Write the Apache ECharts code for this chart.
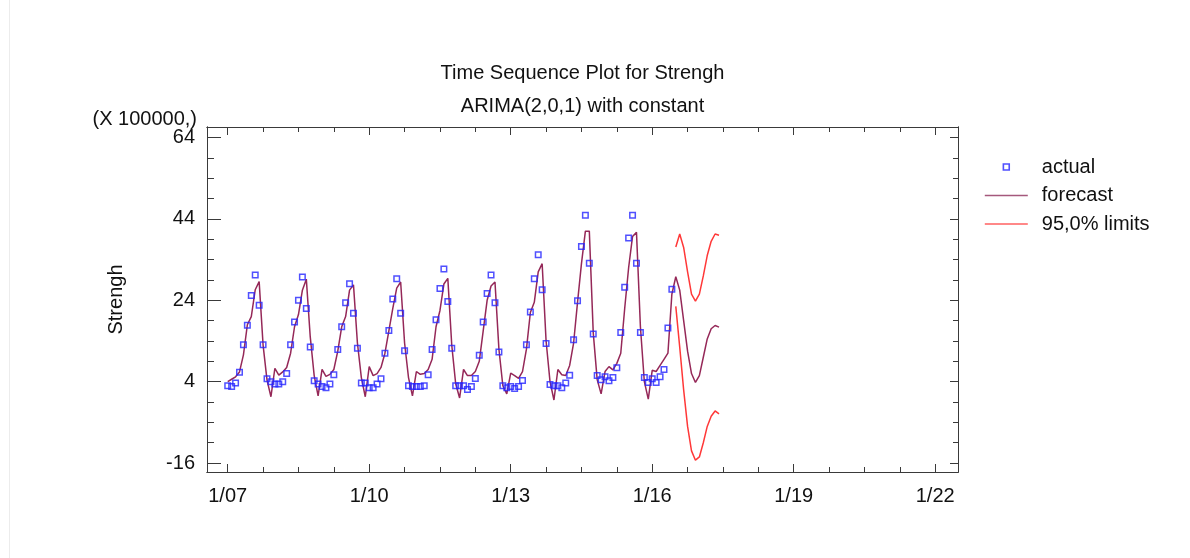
<!DOCTYPE html>
<html>
<head>
<meta charset="utf-8">
<script src="https://cdn.jsdelivr.net/npm/echarts@6/dist/echarts.min.js"></script>
<style>
html,body{margin:0;padding:0;background:#fff;}
#chart{width:1190px;height:558px;}
</style>
</head>
<body>
<div id="chart"></div>
<script>
// ---- data (units of 100000), monthly, index 0 = Jan 2007 ----
const actualValues = [
  3.0, 2.8, 3.7, 6.3, 13.1, 17.9, 25.2, 30.2, 22.8, 13.1, 4.7, 4.0,
  3.4, 3.4, 4.0, 6.0, 13.1, 18.7, 24.0, 29.7, 22.0, 12.5, 4.2, 3.4,
  2.8, 2.5, 3.4, 5.7, 11.9, 17.5, 23.4, 28.1, 20.8, 12.2, 3.7, 3.7,
  2.5, 2.5, 3.4, 4.7, 11.0, 16.6, 24.3, 29.3, 20.8, 11.6, 3.0, 2.8,
  2.8, 2.8, 3.0, 5.7, 11.9, 19.2, 26.9, 31.7, 23.7, 12.2, 3.0, 3.0,
  3.0, 2.1, 2.8, 4.8, 10.5, 18.7, 25.7, 30.2, 23.4, 11.3, 3.0, 2.5,
  2.8, 2.3, 2.8, 4.3, 13.1, 21.1, 29.3, 35.2, 26.6, 13.4, 3.3, 3.0,
  3.0, 2.5, 3.7, 5.6, 14.3, 23.9, 37.2, 44.9, 33.1, 15.7, 5.5, 4.5,
  5.2, 4.2, 5.0, 7.4, 16.1, 27.2, 39.3, 44.9, 33.1, 16.1, 5.0, 3.8,
  4.7, 3.8, 5.2, 7.0, 17.2, 26.7
];
const forecastValues = [
  4.0, 4.6, 5.2, 6.4, 10.6, 18.0, 20.0, 26.6, 28.6, 13.0, 4.4, 0.3,
  7.3, 5.6, 6.4, 7.5, 11.0, 17.5, 20.5, 26.5, 29.2, 15.0, 5.5, 0.5,
  7.0, 5.3, 5.8, 7.0, 11.5, 17.5, 20.0, 26.5, 27.8, 13.5, 5.0, 0.3,
  7.7, 5.5, 6.0, 7.5, 11.0, 16.5, 22.0, 27.0, 28.5, 13.5, 5.0, 0.5,
  6.5, 5.8, 6.0, 7.0, 9.5, 17.5, 21.5, 28.0, 29.4, 13.0, 3.5, 0.0,
  7.0, 5.5, 5.5, 6.5, 9.0, 16.5, 24.0, 27.5, 28.5, 12.0, 3.0, 1.0,
  6.1, 5.5, 4.8, 6.5, 12.0, 21.0, 23.5, 31.0, 33.0, 14.0, 4.0, -0.5,
  7.0, 5.7, 5.5, 8.0, 13.5, 23.5, 33.0, 41.0, 41.0, 16.0, 4.5, 1.0,
  6.5, 7.7, 6.9, 8.5, 11.0, 22.0, 32.0, 39.7, 40.7, 17.5, 4.0, -0.3,
  6.8, 6.5, 8.0, 9.5, 11.0, 25.5,
  29.8, 26.5, 19.0, 11.5, 6.0, 3.8, 5.5, 10.0, 14.5, 17.0, 17.8, 17.4
];
const limitStart = 114;
const upperLimit = [37.1, 40.3, 37.0, 31.0, 25.5, 23.8, 25.5, 30.0, 35.0, 38.5, 40.3, 40.0];
const lowerLimit = [22.5, 12.5, 2.0, -7.0, -13.0, -15.3, -14.5, -11.0, -7.0, -4.5, -3.2, -3.9];

const xTickMonths = [0, 36, 72, 108, 144, 180];
const xTickLabels = ['1/07', '1/10', '1/13', '1/16', '1/19', '1/22'];
const xMinorMonths = [0, 9, 18, 27, 36, 45, 54, 63, 72, 81, 90, 99, 108, 117, 126, 135, 144, 153, 162, 171, 180];
const yTickValues = [-16, 4, 24, 44, 64];
const yMinorValues = [-16, -11, -6, -1, 4, 9, 14, 19, 24, 29, 34, 39, 44, 49, 54, 59, 64];

const X_MIN = -5.27, X_MAX = 185.8;
const Y_MIN = -18.2, Y_MAX = 66.6;

const FONT = 'Liberation Sans, Arial, sans-serif';
const FS = 20;
const AXIS_COLOR = '#3a3a3a';
const BLUE = '#2424ff';
const MAROON = '#952858';
const RED = '#ff3838';

const gridBox = { left: 207, top: 127, right: 232, bottom: 86 };

function xAxisDef(gridIndex, position, ticks, len, withLabels) {
  return {
    type: 'value', gridIndex, position, min: X_MIN, max: X_MAX,
    axisLine: { show: true, onZero: false, lineStyle: { color: AXIS_COLOR, width: 1 } },
    axisTick: { show: true, inside: true, length: len, customValues: ticks, lineStyle: { color: AXIS_COLOR } },
    axisLabel: withLabels ? {
      show: true, customValues: xTickMonths, margin: 14,
      fontFamily: FONT, fontSize: FS, color: '#111',
      formatter: v => { const i = xTickMonths.indexOf(Math.round(v)); return i >= 0 ? xTickLabels[i] : ''; }
    } : { show: false },
    splitLine: { show: false }
  };
}
function yAxisDef(gridIndex, position, ticks, len, withLabels) {
  const a = {
    type: 'value', gridIndex, position, min: Y_MIN, max: Y_MAX,
    axisLine: { show: true, onZero: false, lineStyle: { color: AXIS_COLOR, width: 1 } },
    axisTick: { show: true, inside: true, length: len, customValues: ticks, lineStyle: { color: AXIS_COLOR } },
    axisLabel: withLabels ? {
      show: true, customValues: yTickValues, margin: 12,
      fontFamily: FONT, fontSize: FS, color: '#111'
    } : { show: false },
    splitLine: { show: false }
  };
  if (withLabels) {
    a.name = 'Strengh';
    a.nameLocation = 'middle';
    a.nameGap = 81;
    a.nameTextStyle = { fontFamily: FONT, fontSize: FS, color: '#111' };
  }
  return a;
}

const chart = echarts.init(document.getElementById('chart'), null, { renderer: 'canvas' });
chart.setOption({
  animation: false,
  backgroundColor: '#fff',
  grid: [Object.assign({}, gridBox), Object.assign({}, gridBox)],
  xAxis: [
    xAxisDef(0, 'bottom', xTickMonths, 8, true),
    xAxisDef(0, 'top', xTickMonths, 8, false),
    xAxisDef(1, 'bottom', xMinorMonths, 5, false),
    xAxisDef(1, 'top', xMinorMonths, 5, false)
  ],
  yAxis: [
    yAxisDef(0, 'left', yTickValues, 14, true),
    yAxisDef(0, 'right', yTickValues, 8, false),
    yAxisDef(1, 'left', yMinorValues, 7, false),
    yAxisDef(1, 'right', yMinorValues, 5, false)
  ],
  legend: {
    orient: 'vertical', left: 979, top: 152,
    itemWidth: 43, itemHeight: 14, itemGap: 8.5,
    textStyle: { fontFamily: FONT, fontSize: FS, color: '#111', padding: [0, 0, 0, 9] },
    data: [
      { name: 'actual', icon: 'path://M0,0M44,14M19,4h6v6h-6z',
        itemStyle: { color: '#fff', borderColor: BLUE, borderWidth: 1.6 } },
      { name: 'forecast', icon: 'path://M0,0M44,14M0,6.2h44v1.6h-44z',
        itemStyle: { color: '#a5587c', borderWidth: 0 } },
      { name: '95,0% limits', icon: 'path://M0,0M44,14M0,6.2h44v1.6h-44z',
        itemStyle: { color: '#ff6060', borderWidth: 0 } }
    ]
  },
  graphic: [
    { type: 'line', shape: { x1: 9.5, y1: 0, x2: 9.5, y2: 558 }, style: { stroke: '#ececec', lineWidth: 1 } },
    { type: 'text', x: 582.5, y: 73, style: { text: 'Time Sequence Plot for Strengh', font: FS + 'px ' + FONT, fill: '#111', textAlign: 'center', textVerticalAlign: 'middle' } },
    { type: 'text', x: 582.5, y: 106, style: { text: 'ARIMA(2,0,1) with constant', font: FS + 'px ' + FONT, fill: '#111', textAlign: 'center', textVerticalAlign: 'middle' } },
    { type: 'text', x: 197, y: 119, style: { text: '(X 100000,)', font: FS + 'px ' + FONT, fill: '#111', textAlign: 'right', textVerticalAlign: 'middle' } }
  ],
  series: [
    {
      name: 'forecast', type: 'line', xAxisIndex: 0, yAxisIndex: 0,
      data: forecastValues.map((v, i) => [i, v]),
      showSymbol: false, symbol: 'none',
      lineStyle: { color: MAROON, width: 1.5 }, itemStyle: { color: MAROON }, z: 2
    },
    {
      name: '95,0% limits', type: 'line', xAxisIndex: 0, yAxisIndex: 0,
      data: upperLimit.map((v, i) => [limitStart + i, v]),
      showSymbol: false, symbol: 'none',
      lineStyle: { color: RED, width: 1.5 }, itemStyle: { color: RED }, z: 2
    },
    {
      name: '95,0% limits', type: 'line', xAxisIndex: 0, yAxisIndex: 0,
      data: lowerLimit.map((v, i) => [limitStart + i, v]),
      showSymbol: false, symbol: 'none',
      lineStyle: { color: RED, width: 1.5 }, itemStyle: { color: RED }, z: 2
    },
    {
      name: 'actual', type: 'scatter', xAxisIndex: 0, yAxisIndex: 0,
      data: actualValues.map((v, i) => [i, v]),
      symbol: 'rect', symbolSize: 5.5,
      itemStyle: { color: 'rgba(255,255,255,0)', borderColor: BLUE, borderWidth: 1.5 }, z: 3
    }
  ]
});
</script>
</body>
</html>
